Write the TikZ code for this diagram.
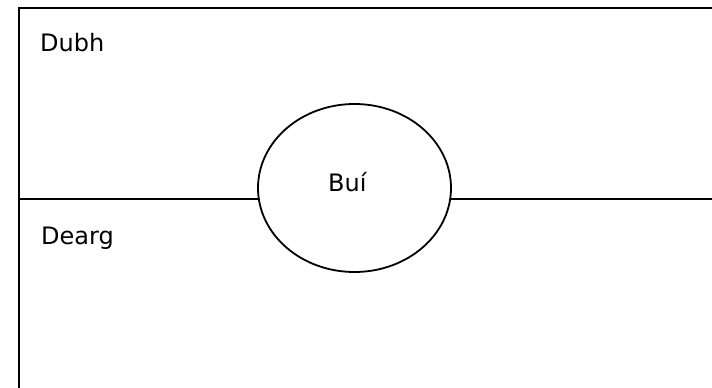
\documentclass[tikz,border=0pt]{standalone}
\usepackage{fontspec}
\setmainfont{DejaVu Sans}
\usetikzlibrary{shapes.geometric}
\begin{document}
\begin{tikzpicture}[x=1pt,y=-1pt,
  lbl/.style={anchor=base west,inner sep=0pt,font=\fontsize{24}{28}\selectfont},
  edge/.style={line width=2.2pt,line cap=rect}]
\useasboundingbox (0,0) rectangle (712,388);
\coordinate (tl) at (19,8);
\coordinate (tr) at (713,8);
\coordinate (bl) at (19,389);
\coordinate (ml) at (19,199);
\coordinate (mr) at (713,199);
\draw[edge] (tr) -- (tl) -- (bl);
\draw[edge] (ml) -- (mr);
\node[ellipse,draw,line width=1.8pt,fill=white,minimum width=193pt,minimum height=168pt,inner sep=0pt] (bui) at (354.5,188) {};
\node[lbl] (dubh) at (40,51) {Dubh};
\node[lbl] (dearg) at (41,244) {Dearg};
\node[lbl] (buit) at (328,191) {Buí};
\end{tikzpicture}
\end{document}
